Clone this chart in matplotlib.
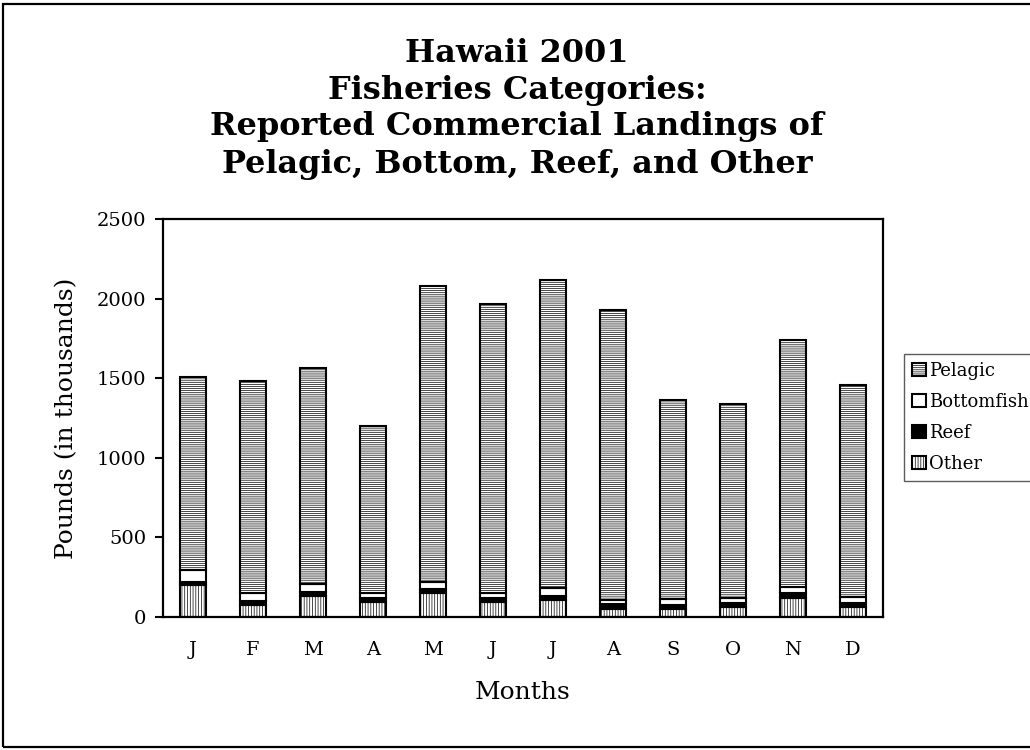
import matplotlib
matplotlib.use("Agg")
import matplotlib.pyplot as plt
from matplotlib.patches import Rectangle
import numpy as np

months = ['J', 'F', 'M', 'A', 'M', 'J', 'J', 'A', 'S', 'O', 'N', 'D']
other = [200, 75, 135, 95, 150, 95, 105, 50, 50, 60, 120, 60]
reef = [20, 25, 20, 25, 25, 25, 30, 30, 25, 25, 30, 25]
bottomfish = [75, 50, 55, 30, 45, 30, 45, 25, 35, 35, 40, 40]
pelagic = [1210, 1330, 1355, 1048, 1860, 1815, 1935, 1825, 1250, 1220, 1552, 1335]

title_lines = ["Hawaii 2001", "Fisheries Categories:",
               "Reported Commercial Landings of",
               "Pelagic, Bottom, Reef, and Other"]

plt.rcParams['font.family'] = ['DejaVu Serif']
plt.rcParams['hatch.linewidth'] = 0.5
plt.rcParams['hatch.color'] = 'black'

W, H = 1030, 750
fig = plt.figure(figsize=(W / 100, H / 100), dpi=100)
ax = fig.add_axes([163 / W, 1 - 617 / H, 720 / W, 398 / H])

x = np.arange(len(months))
bw = 0.42
ekw = dict(edgecolor='black', linewidth=1.5)
b_other = ax.bar(x, other, bw, color='white', hatch='||||||', label='Other', **ekw)
bottom1 = np.array(other)
b_reef = ax.bar(x, reef, bw, bottom=bottom1, color='black', label='Reef', **ekw)
bottom2 = bottom1 + np.array(reef)
b_bott = ax.bar(x, bottomfish, bw, bottom=bottom2, color='white', label='Bottomfish', **ekw)
bottom3 = bottom2 + np.array(bottomfish)
b_pel = ax.bar(x, pelagic, bw, bottom=bottom3, color='white', hatch='--------', label='Pelagic', **ekw)

ax.set_xlim(-0.5, len(months) - 0.5)
ax.set_ylim(0, 2500)
ax.set_yticks(np.arange(0, 2501, 500))
ax.set_xticks(x)
ax.set_xticklabels(months)
ax.tick_params(axis='x', length=0, pad=17, labelsize=14)
ax.tick_params(axis='y', direction='out', length=6, width=1.5, pad=6, labelsize=14)
for s in ax.spines.values():
    s.set_linewidth(1.6)
    s.set_color('black')

ax.set_xlabel('Months', fontsize=18)
ax.xaxis.set_label_coords(0.5, -0.16)
ax.set_ylabel('Pounds (in thousands)', fontsize=18)
ax.yaxis.set_label_coords(-0.118, 0.5)

leg = fig.legend([b_pel, b_bott, b_reef, b_other],
                 ['Pelagic', 'Bottomfish', 'Reef', 'Other'],
                 loc='upper left', bbox_to_anchor=(904 / W, 1 - 354 / H),
                 borderaxespad=0, fontsize=13, frameon=True, fancybox=False,
                 handlelength=0.75, handleheight=0.75, handletextpad=0.2,
                 labelspacing=0.72, borderpad=0.45)
leg.get_frame().set_edgecolor('#333333')
leg.get_frame().set_linewidth(1.0)

ys = [53, 90, 127, 164]
for t, yy in zip(title_lines, ys):
    fig.text(517 / W, 1 - yy / H, t, ha='center', va='center',
             fontsize=23, fontweight='bold')

fig.patches.append(Rectangle((3 / W, 3 / H), 1.2, 1 - 7 / H, transform=fig.transFigure,
                             fill=False, edgecolor='black', linewidth=1.6))

fig.savefig('out.png', dpi=100)
